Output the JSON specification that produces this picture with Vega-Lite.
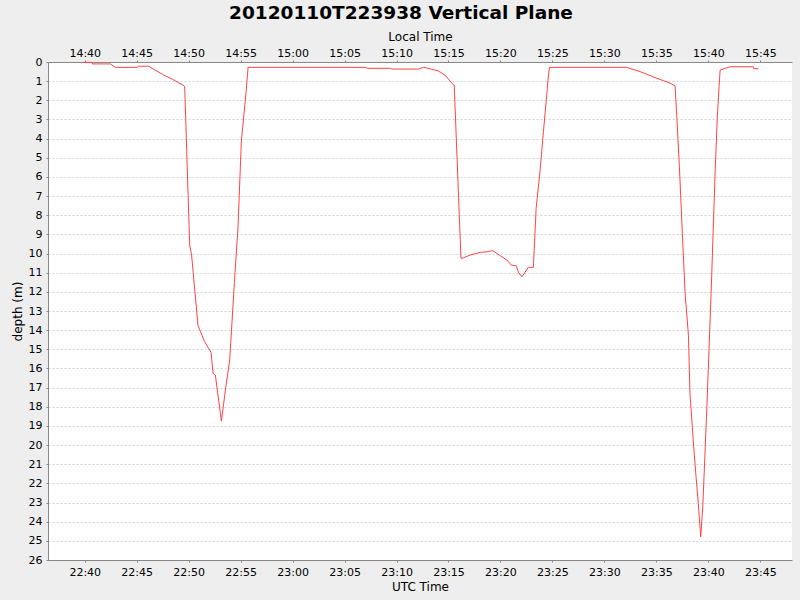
{
  "$schema": "https://vega.github.io/schema/vega-lite/v6.json",
  "width": 744,
  "height": 498,
  "autosize": {"type": "none"},
  "padding": {"left": 48, "top": 62, "right": 8, "bottom": 40},
  "background": "#EEEEEE",
  "title": {
    "text": "20120110T223938 Vertical Plane",
    "font": "DejaVu Sans",
    "fontSize": 18.5,
    "fontWeight": "bold",
    "color": "#000000",
    "anchor": "middle",
    "dx": -19,
    "offset": 8
  },
  "config": {
    "view": {"fill": "#FFFFFF", "stroke": null},
    "axis": {
      "labelFont": "DejaVu Sans",
      "labelFontSize": 11,
      "labelColor": "#000000",
      "titleFont": "DejaVu Sans",
      "titleFontSize": 12,
      "titleFontWeight": "normal",
      "titleColor": "#000000",
      "domainColor": "#888888",
      "tickColor": "#888888",
      "tickSize": 2,
      "labelPadding": 4
    }
  },
  "data": {
    "values": [
      {"time": "2012-01-10T22:39:48Z", "depth": 0.02},
      {"time": "2012-01-10T22:40:42Z", "depth": 0.02},
      {"time": "2012-01-10T22:40:44Z", "depth": 0.1},
      {"time": "2012-01-10T22:42:28Z", "depth": 0.1},
      {"time": "2012-01-10T22:42:57Z", "depth": 0.28},
      {"time": "2012-01-10T22:45:02Z", "depth": 0.28},
      {"time": "2012-01-10T22:45:10Z", "depth": 0.22},
      {"time": "2012-01-10T22:46:09Z", "depth": 0.22},
      {"time": "2012-01-10T22:46:38Z", "depth": 0.38},
      {"time": "2012-01-10T22:47:36Z", "depth": 0.68},
      {"time": "2012-01-10T22:48:24Z", "depth": 0.89},
      {"time": "2012-01-10T22:49:35Z", "depth": 1.25},
      {"time": "2012-01-10T22:49:37Z", "depth": 1.29},
      {"time": "2012-01-10T22:50:06Z", "depth": 9.56},
      {"time": "2012-01-10T22:50:17Z", "depth": 10.08},
      {"time": "2012-01-10T22:50:54Z", "depth": 13.77},
      {"time": "2012-01-10T22:51:32Z", "depth": 14.6},
      {"time": "2012-01-10T22:52:09Z", "depth": 15.16},
      {"time": "2012-01-10T22:52:21Z", "depth": 16.26},
      {"time": "2012-01-10T22:52:34Z", "depth": 16.34},
      {"time": "2012-01-10T22:53:09Z", "depth": 18.75},
      {"time": "2012-01-10T22:53:36Z", "depth": 16.87},
      {"time": "2012-01-10T22:53:57Z", "depth": 15.56},
      {"time": "2012-01-10T22:54:24Z", "depth": 11.52},
      {"time": "2012-01-10T22:54:45Z", "depth": 8.6},
      {"time": "2012-01-10T22:55:04Z", "depth": 4.16},
      {"time": "2012-01-10T22:55:33Z", "depth": 1.43},
      {"time": "2012-01-10T22:55:40Z", "depth": 0.63},
      {"time": "2012-01-10T22:55:43Z", "depth": 0.28},
      {"time": "2012-01-10T23:06:59Z", "depth": 0.28},
      {"time": "2012-01-10T23:07:11Z", "depth": 0.33},
      {"time": "2012-01-10T23:09:24Z", "depth": 0.33},
      {"time": "2012-01-10T23:09:35Z", "depth": 0.37},
      {"time": "2012-01-10T23:12:07Z", "depth": 0.37},
      {"time": "2012-01-10T23:12:36Z", "depth": 0.28},
      {"time": "2012-01-10T23:12:55Z", "depth": 0.31},
      {"time": "2012-01-10T23:14:02Z", "depth": 0.47},
      {"time": "2012-01-10T23:14:41Z", "depth": 0.7},
      {"time": "2012-01-10T23:15:29Z", "depth": 1.2},
      {"time": "2012-01-10T23:15:33Z", "depth": 1.2},
      {"time": "2012-01-10T23:16:12Z", "depth": 10.25},
      {"time": "2012-01-10T23:16:26Z", "depth": 10.22},
      {"time": "2012-01-10T23:17:05Z", "depth": 10.08},
      {"time": "2012-01-10T23:18:03Z", "depth": 9.94},
      {"time": "2012-01-10T23:18:32Z", "depth": 9.92},
      {"time": "2012-01-10T23:19:16Z", "depth": 9.85},
      {"time": "2012-01-10T23:19:58Z", "depth": 10.11},
      {"time": "2012-01-10T23:20:37Z", "depth": 10.34},
      {"time": "2012-01-10T23:21:02Z", "depth": 10.6},
      {"time": "2012-01-10T23:21:31Z", "depth": 10.64},
      {"time": "2012-01-10T23:21:44Z", "depth": 10.98},
      {"time": "2012-01-10T23:22:04Z", "depth": 11.21},
      {"time": "2012-01-10T23:22:41Z", "depth": 10.72},
      {"time": "2012-01-10T23:23:10Z", "depth": 10.72},
      {"time": "2012-01-10T23:23:26Z", "depth": 7.64},
      {"time": "2012-01-10T23:23:49Z", "depth": 5.64},
      {"time": "2012-01-10T23:24:08Z", "depth": 3.64},
      {"time": "2012-01-10T23:24:28Z", "depth": 1.63},
      {"time": "2012-01-10T23:24:37Z", "depth": 0.68},
      {"time": "2012-01-10T23:24:43Z", "depth": 0.28},
      {"time": "2012-01-10T23:32:09Z", "depth": 0.28},
      {"time": "2012-01-10T23:33:26Z", "depth": 0.5},
      {"time": "2012-01-10T23:35:02Z", "depth": 0.85},
      {"time": "2012-01-10T23:36:19Z", "depth": 1.1},
      {"time": "2012-01-10T23:36:48Z", "depth": 1.25},
      {"time": "2012-01-10T23:36:58Z", "depth": 2.86},
      {"time": "2012-01-10T23:37:13Z", "depth": 5.47},
      {"time": "2012-01-10T23:37:30Z", "depth": 8.95},
      {"time": "2012-01-10T23:37:46Z", "depth": 12.08},
      {"time": "2012-01-10T23:38:05Z", "depth": 14.26},
      {"time": "2012-01-10T23:38:14Z", "depth": 17.3},
      {"time": "2012-01-10T23:38:34Z", "depth": 19.9},
      {"time": "2012-01-10T23:38:49Z", "depth": 21.65},
      {"time": "2012-01-10T23:39:02Z", "depth": 23.04},
      {"time": "2012-01-10T23:39:16Z", "depth": 24.79},
      {"time": "2012-01-10T23:39:28Z", "depth": 23.22},
      {"time": "2012-01-10T23:39:51Z", "depth": 18.17},
      {"time": "2012-01-10T23:40:16Z", "depth": 12.08},
      {"time": "2012-01-10T23:40:39Z", "depth": 5.81},
      {"time": "2012-01-10T23:40:52Z", "depth": 2.86},
      {"time": "2012-01-10T23:41:02Z", "depth": 1.29},
      {"time": "2012-01-10T23:41:08Z", "depth": 0.42},
      {"time": "2012-01-10T23:41:37Z", "depth": 0.33},
      {"time": "2012-01-10T23:42:05Z", "depth": 0.25},
      {"time": "2012-01-10T23:44:20Z", "depth": 0.25},
      {"time": "2012-01-10T23:44:23Z", "depth": 0.35},
      {"time": "2012-01-10T23:44:49Z", "depth": 0.35}
    ]
  },
  "layer": [
    {
      "mark": {"type": "line", "color": "#FF4444", "strokeWidth": 1},
      "encoding": {
        "x": {
          "field": "time",
          "type": "temporal",
          "scale": {"type": "utc", "domain": [1326234988000, 1326239283000], "nice": false},
          "axis": {
            "orient": "bottom",
            "title": "UTC Time",
            "grid": false,
            "values": [1326235200000, 1326235500000, 1326235800000, 1326236100000, 1326236400000, 1326236700000, 1326237000000, 1326237300000, 1326237600000, 1326237900000, 1326238200000, 1326238500000, 1326238800000, 1326239100000],
            "labelExpr": "utcFormat(toNumber(datum.value), '%H:%M')",
            "titlePadding": 4
          }
        },
        "y": {
          "field": "depth",
          "type": "quantitative",
          "scale": {"domain": [0, 26], "reverse": true, "nice": false, "zero": false},
          "axis": {
            "title": "depth (m)",
            "values": [0, 1, 2, 3, 4, 5, 6, 7, 8, 9, 10, 11, 12, 13, 14, 15, 16, 17, 18, 19, 20, 21, 22, 23, 24, 25, 26],
            "labelOverlap": false,
            "grid": true,
            "gridColor": "#D4D4D4",
            "gridDash": [2, 2],
            "titlePadding": 4
          }
        }
      }
    },
    {
      "mark": {"type": "line", "strokeOpacity": 0},
      "encoding": {
        "x": {
          "field": "time",
          "type": "temporal",
          "scale": {"type": "utc", "domain": [1326234988000, 1326239283000], "nice": false},
          "axis": {
            "orient": "top",
            "title": "Local Time",
            "grid": false,
            "values": [1326235200000, 1326235500000, 1326235800000, 1326236100000, 1326236400000, 1326236700000, 1326237000000, 1326237300000, 1326237600000, 1326237900000, 1326238200000, 1326238500000, 1326238800000, 1326239100000],
            "labelExpr": "utcFormat(toNumber(datum.value) - 28800000, '%H:%M')",
            "labelPadding": 1.5,
            "titlePadding": 4
          }
        },
        "y": {
          "field": "depth",
          "type": "quantitative",
          "scale": {"domain": [0, 26], "reverse": true, "nice": false, "zero": false},
          "axis": {
            "title": "depth (m)",
            "values": [0, 1, 2, 3, 4, 5, 6, 7, 8, 9, 10, 11, 12, 13, 14, 15, 16, 17, 18, 19, 20, 21, 22, 23, 24, 25, 26],
            "labelOverlap": false,
            "grid": true,
            "gridColor": "#D4D4D4",
            "gridDash": [2, 2],
            "titlePadding": 4
          }
        }
      }
    }
  ],
  "resolve": {"axis": {"x": "independent"}}
}
